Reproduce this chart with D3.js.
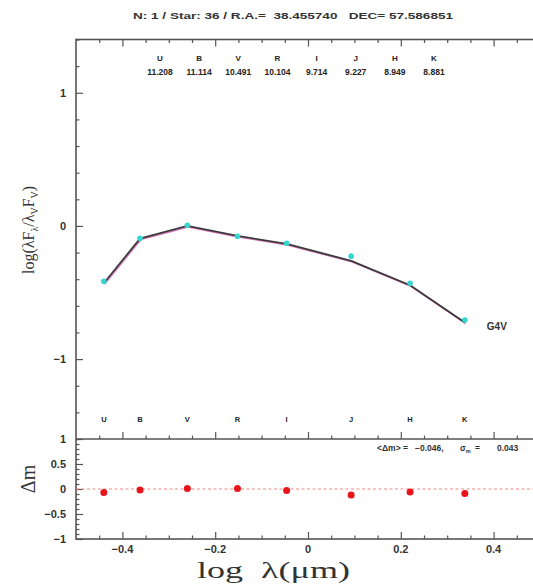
<!DOCTYPE html>
<html>
<head>
<meta charset="utf-8">
<script src="https://cdn.jsdelivr.net/npm/d3@7"></script>
<style>
  html, body { margin: 0; padding: 0; background: #fff; }
  svg { display: block; }
</style>
</head>
<body>
<script>
// ---------------- data ----------------
const bands       = ["U", "B", "V", "R", "I", "J", "H", "K"];
const logLambda   = [-0.440, -0.362, -0.260, -0.152, -0.046, 0.093, 0.220, 0.338];
const magnitudes  = ["11.208", "11.114", "10.491", "10.104", "9.714", "9.227", "8.949", "8.881"];
const observedSED = [-0.415, -0.092, 0.005, -0.077, -0.130, -0.227, -0.430, -0.707];
const modelSED    = [-0.430, -0.095, 0.000, -0.075, -0.135, -0.262, -0.445, -0.725];
const residuals   = [-0.07, -0.02, 0.01, 0.01, -0.03, -0.12, -0.06, -0.09];
const xTicks      = [-0.4, -0.2, 0, 0.2, 0.4];
const yTicksMain  = [-1, 0, 1];
const yTicksRes   = [-1, -0.5, 0, 0.5, 1];
const titleText   = "N: 1 / Star: 36 / R.A.=  38.455740   DEC= 57.586851";
const modelLabel  = "G4V";
const meanDm      = "\u22120.046,";
const sigmaDm     = "0.043";

// ---------------- layout ----------------
const W = 533, H = 587;
const left = 76, right = 540;
const mainTop = 39.5, mainBot = 439, resBot = 539;
const frameColor = "#555";
const tickFont = "'Liberation Sans', Arial, sans-serif";
const serif = "'Liberation Serif', 'DejaVu Serif', serif";

const svg = d3.select("body").append("svg").attr("width", W).attr("height", H);

const x = d3.scaleLinear().domain([-0.5, 0.5]).range([left, right]);
const yMain = d3.scaleLinear().domain([-1.6, 1.4]).range([mainBot, mainTop]);
const yRes = d3.scaleLinear().domain([-1, 1]).range([resBot, mainBot]);

const fmt = d => (d < 0 ? "\u2212" : "") + d3.format("")(Math.abs(d));

// ---- axes helpers (inward ticks) ----
function xAxisTicks(yPos, dir) {
  const gM = svg.append("g").attr("transform", `translate(0,${yPos})`)
    .call((dir > 0 ? d3.axisBottom(x) : d3.axisTop(x)).tickValues(xTicks).tickSize(7).tickSizeOuter(0).tickFormat(""));
  const minor = d3.range(-0.45, 0.5, 0.05).filter(v => !xTicks.some(t => Math.abs(t - v) < 1e-6));
  const gm = svg.append("g").attr("transform", `translate(0,${yPos})`)
    .call((dir > 0 ? d3.axisBottom(x) : d3.axisTop(x)).tickValues(minor).tickSize(3.5).tickSizeOuter(0).tickFormat(""));
  [gM, gm].forEach(g => {
    g.select(".domain").remove();
    g.selectAll(".tick line").attr("stroke", frameColor).attr("stroke-width", 1.2);
  });
}

// ---- frames ----
svg.append("rect").attr("x", left).attr("y", mainTop).attr("width", right - left).attr("height", resBot - mainTop)
  .attr("fill", "none").attr("stroke", frameColor).attr("stroke-width", 1.6);
svg.append("line").attr("x1", left).attr("x2", right).attr("y1", mainBot).attr("y2", mainBot)
  .attr("stroke", frameColor).attr("stroke-width", 1.6);

xAxisTicks(mainTop, 1);
xAxisTicks(mainBot, -1);
xAxisTicks(resBot, -1);

// x tick labels below residual panel
svg.append("g").selectAll("text").data(xTicks).join("text")
  .attr("x", d => x(d)).attr("y", resBot + 14)
  .attr("text-anchor", "middle")
  .attr("font-family", tickFont).attr("font-size", 11).attr("font-weight", "bold").attr("fill", "#333")
  .text(fmt);

// y ticks
function yTicks(scale, majors, minorStep, lo, hi, majorLen, minorLen) {
  const minor = d3.range(lo, hi + 1e-9, minorStep).map(v => +v.toFixed(3)).filter(v => !majors.some(t => Math.abs(t - v) < 1e-6));
  const g1 = svg.append("g").attr("transform", `translate(${left},0)`)
    .call(d3.axisRight(scale).tickValues(majors).tickSize(majorLen).tickSizeOuter(0).tickFormat(""));
  const g2 = svg.append("g").attr("transform", `translate(${left},0)`)
    .call(d3.axisRight(scale).tickValues(minor).tickSize(minorLen).tickSizeOuter(0).tickFormat(""));
  const g3 = svg.append("g").attr("transform", `translate(${right},0)`)
    .call(d3.axisLeft(scale).tickValues(majors).tickSize(majorLen).tickSizeOuter(0).tickFormat(""));
  [g1, g2, g3].forEach(g => {
    g.select(".domain").remove();
    g.selectAll(".tick line").attr("stroke", frameColor).attr("stroke-width", 1.2);
  });
  svg.append("g").selectAll("text").data(majors).join("text")
    .attr("x", left - 10).attr("y", d => scale(d)).attr("dy", "0.35em")
    .attr("text-anchor", "end")
    .attr("font-family", tickFont).attr("font-size", 11).attr("font-weight", "bold").attr("fill", "#333")
    .text(fmt);
}
yTicks(yMain, yTicksMain, 0.2, -1.6, 1.4, 7, 3.5);
yTicks(yRes, yTicksRes, 0.1, -1, 1, 7, 3.5);

// ---- title ----
svg.append("text").attr("x", 133).attr("y", 19)
  .attr("font-family", tickFont).attr("font-size", 9.5).attr("font-weight", "600").attr("fill", "#333")
  .attr("textLength", 320).attr("lengthAdjust", "spacingAndGlyphs")
  .style("white-space", "pre")
  .text(titleText);

// ---- photometry table at top ----
const colX = d3.scalePoint().domain(bands).range([160, 434]);
svg.append("g").selectAll("text").data(bands).join("text")
  .attr("x", d => colX(d)).attr("y", 61).attr("text-anchor", "middle")
  .attr("font-family", tickFont).attr("font-size", 8).attr("font-weight", "bold").attr("fill", "#222")
  .text(d => d);
svg.append("g").selectAll("text").data(magnitudes).join("text")
  .attr("x", (d, i) => colX(bands[i])).attr("y", 75).attr("text-anchor", "middle")
  .attr("font-family", tickFont).attr("font-size", 8.5).attr("font-weight", "bold").attr("fill", "#222")
  .text(d => d);

// ---- band labels near bottom of main panel ----
svg.append("g").selectAll("text").data(bands).join("text")
  .attr("x", (d, i) => x(logLambda[i])).attr("y", 422).attr("text-anchor", "middle")
  .attr("font-family", tickFont).attr("font-size", 7.5).attr("font-weight", "bold").attr("fill", "#222")
  .text(d => d);

// ---- SED ----
const pts = (arr) => arr.map((v, i) => [logLambda[i], v]);
const line = d3.line().x(d => x(d[0])).y(d => yMain(d[1]));
svg.append("path").datum(pts(modelSED)).attr("d", line)
  .attr("fill", "none").attr("stroke", "#e070c0").attr("stroke-width", 1.2)
  .attr("transform", "translate(0.8,1.2)");
svg.append("path").datum(pts(modelSED)).attr("d", line)
  .attr("fill", "none").attr("stroke", "#3a3a3a").attr("stroke-width", 1.8);
svg.append("g").selectAll("circle").data(pts(observedSED)).join("circle")
  .attr("cx", d => x(d[0])).attr("cy", d => yMain(d[1])).attr("r", 2.8)
  .attr("fill", "#35d6d0");

svg.append("text").attr("x", x(logLambda[7]) + 22).attr("y", yMain(modelSED[7]) + 8)
  .attr("font-family", tickFont).attr("font-size", 10).attr("font-weight", "bold").attr("fill", "#333")
  .text(modelLabel);

// ---- residuals ----
svg.append("line").attr("x1", left).attr("x2", right).attr("y1", yRes(0)).attr("y2", yRes(0))
  .attr("stroke", "#f08a8a").attr("stroke-width", 1.2).attr("stroke-dasharray", "3,2.5");
svg.append("g").selectAll("circle").data(pts(residuals)).join("circle")
  .attr("cx", d => x(d[0])).attr("cy", d => yRes(d[1])).attr("r", 3.5)
  .attr("fill", "#e8141c");

const st = svg.append("text").attr("y", 451)
  .attr("font-family", tickFont).attr("font-size", 8.5).attr("font-weight", "bold").attr("fill", "#333");
st.append("tspan").attr("x", 377).text("<\u0394m>");
st.append("tspan").attr("x", 403).text("=");
st.append("tspan").attr("x", 415).text(meanDm);
st.append("tspan").attr("x", 460).text("\u03C3");
st.append("tspan").attr("font-size", 5.5).attr("dy", 2).text("m");
st.append("tspan").attr("dy", -2).attr("x", 475).text("=");
st.append("tspan").attr("x", 497).text(sigmaDm);

// ---- axis titles ----
const yl = svg.append("text").attr("transform", `translate(34,${yMain(-0.03)}) rotate(-90)`)
  .attr("text-anchor", "middle").attr("font-family", serif).attr("font-size", 16).attr("fill", "#333");
yl.append("tspan").text("log(\u03BBF");
yl.append("tspan").attr("font-size", 10).attr("dy", 3.5).text("\u03BB");
yl.append("tspan").attr("dy", -3.5).text("/\u03BB");
yl.append("tspan").attr("font-size", 10).attr("dy", 3.5).text("V");
yl.append("tspan").attr("dy", -3.5).text("F");
yl.append("tspan").attr("font-size", 10).attr("dy", 3.5).text("V");
yl.append("tspan").attr("dy", -3.5).text(")");

svg.append("text").attr("transform", `translate(35,479) rotate(-90)`)
  .attr("text-anchor", "middle").attr("font-family", serif).attr("font-size", 20).attr("fill", "#333")
  .text("\u0394m");

svg.append("text").attr("x", 197).attr("y", 578)
  .attr("font-family", serif).attr("font-size", 24).attr("fill", "#333")
  .attr("textLength", 153).attr("lengthAdjust", "spacingAndGlyphs")
  .style("white-space", "pre")
  .text("log  \u03BB(\u03BCm)");
</script>
</body>
</html>
